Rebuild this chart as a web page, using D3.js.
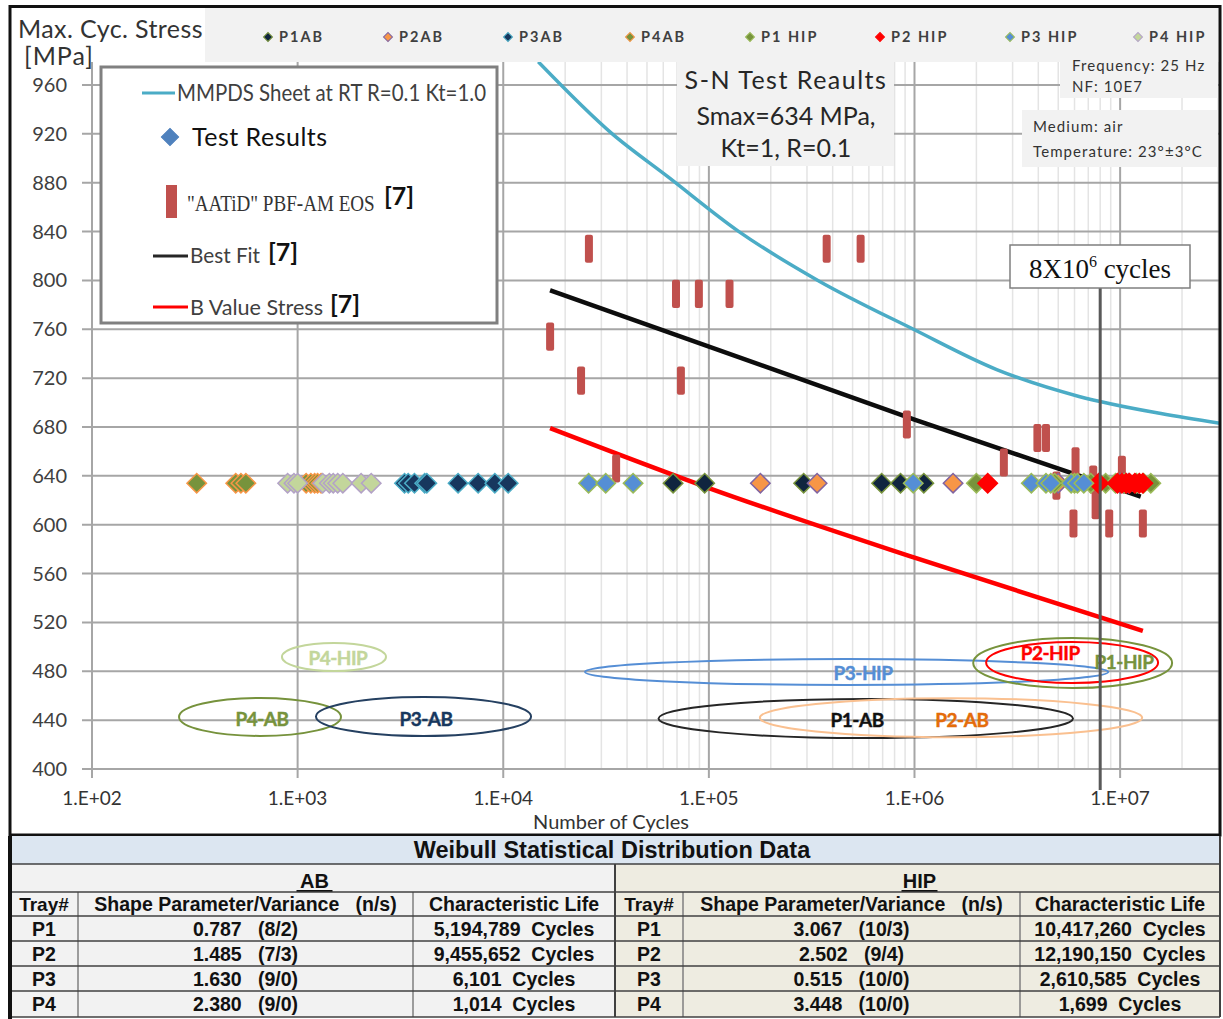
<!DOCTYPE html>
<html>
<head>
<meta charset="utf-8">
<title>S-N Test Results</title>
<style>
  body { margin: 0; background: #fff; }
  svg { display: block; font-family: Lato, 'Open Sans', sans-serif; }
  .pre { white-space: pre; }
  .tbl text { font-family: 'Liberation Sans', Arial, sans-serif; font-weight: bold; fill: #111; }
</style>
</head>
<body>
<svg width="1223" height="1019"></svg>
<script src="https://d3js.org/d3.v7.min.js"></script>
<script>
// ---- test results (all run at Smax = 634 MPa) ----
const stressLevel = 634;
const seriesNames = ["P1AB", "P2AB", "P3AB", "P4AB", "P1 HIP", "P2 HIP", "P3 HIP", "P4 HIP"];
const seriesFill = ["#10253f", "#f79646", "#17375e", "#77933c", "#77933c", "#ff0000", "#558ed5", "#c3d69b"];
const seriesStroke = ["#77933c", "#8064a2", "#4bacc6", "#f79646", "#9bbb59", "#ff0000", "#9bbb59", "#b3a2c7"];
const p1ab = [67000, 95400, 289000, 692000, 855000, 1110000, 10000000, 10500000];
const p2ab = [178000, 336000, 1540000, 5000000, 10000000, 10400000, 11000000];
const p3ab = [3310, 3450, 3700, 4150, 4250, 6030, 7550, 9100, 10570];
const p4ab = [323, 500, 530, 560, 1100, 1160, 1210, 1250, 1300];
const p1hip = [2000000, 4800000, 6000000, 7200000, 8500000, 9500000, 10500000, 12000000, 13000000, 14100000];
const p2hip = [2270000, 7860000, 9700000, 10200000, 10700000, 11100000, 11800000, 12400000, 12900000];
const p3hip = [26000, 31500, 42800, 986000, 3700000, 4360000, 4600000, 5780000, 6200000, 6660000];
const p4hip = [894, 960, 1000, 1324, 1427, 1490, 1566, 1659, 2036, 2280];
const seriesCycles = [p1ab, p2ab, p3ab, p4ab, p1hip, p2hip, p3hip, p4hip];

// ---- "AATiD" PBF-AM EOS [7] ----
const eosCycles = [16900, 23900, 26100, 35400, 69200, 73100, 89400, 126000, 374000, 547000, 918000,
                   2720000, 3960000, 4360000, 4900000, 5930000, 6070000, 7400000, 7600000, 8850000, 10200000, 12900000];
const eosStress = [754, 718, 826, 646, 789, 718, 789, 789, 826, 826, 682,
                   651, 671, 671, 632, 601, 652, 637, 616, 601, 645, 601];

// ---- curves ----
const mmpdsCycles = [14800, 33900, 63100, 140000, 339000, 988000, 2510000, 6310000, 15800000, 30600000];
const mmpdsStress = [979, 920, 885, 840, 800, 760, 727, 705, 691, 683];
const bestFitCycles = [16900, 1000000, 12600000];
const bestFitStress = [792, 686, 623];
const bValueCycles = [16900, 100000, 1000000, 12900000];
const bValueStress = [679, 630, 573, 513];

// ---- group ovals ----
const ovalNames = ["P4-HIP", "P4-AB", "P3-AB", "P3-HIP", "P1-AB", "P2-AB", "P1-HIP", "P2-HIP"];
const ovalFrom = [839, 265, 1228, 25000, 56900, 177000, 1930000, 2230000];
const ovalTo = [2690, 1625, 13650, 8750000, 5900000, 12800000, 17900000, 15300000];
const ovalStress = [491.7, 442.6, 443, 479.4, 441.3, 442, 486.8, 487.2];
const ovalHalf = [11.5, 15.5, 16, 10.6, 16, 16, 20.5, 16.8];
const ovalStroke = ["#c3d69b", "#76923c", "#254061", "#558ed5", "#262626", "#fac090", "#77933c", "#ff0000"];
const ovalText = ["#c3d69b", "#77933c", "#17375e", "#558ed5", "#111111", "#e46c0a", "#77933c", "#ff0000"];
const ovalLabelCycles = [1570, 671, 4210, 562000, 526000, 1700000, 10450000, 4570000];
const ovalLabelStress = [491, 441, 441, 479, 440, 440, 487.6, 495];

// ---- axes ----
const yTicks = d3.range(400, 961, 40);
const xDecades = [1e2, 1e3, 1e4, 1e5, 1e6, 1e7];
const runoutCycles = 8e6;

// ---- Weibull table ----
const trays = ["P1", "P2", "P3", "P4"];
const abShape = ["0.787", "1.485", "1.630", "2.380"];
const abNs = ["(8/2)", "(7/3)", "(9/0)", "(9/0)"];
const abLife = ["5,194,789", "9,455,652", "6,101", "1,014"];
const hipShape = ["3.067", "2.502", "0.515", "3.448"];
const hipNs = ["(10/3)", "(9/4)", "(10/0)", "(10/0)"];
const hipLife = ["10,417,260", "12,190,150", "2,610,585", "1,699"];

const svg = d3.select("svg");

const x = d3.scaleLog().domain([100, 3.06e7]).range([92, 1220]);
const y = d3.scaleLinear().domain([400, 960]).range([769, 85]);
const plotTop = 62, plotRight = 1220;

// frame
svg.append("rect").attr("x", 9.5).attr("y", 6.5).attr("width", 1211).attr("height", 1012)
  .attr("fill", "#fff").attr("stroke", "none");
svg.append("rect").attr("x", 205).attr("y", 8).attr("width", 1013).attr("height", 54).attr("fill", "#f2f2f2");

svg.append("clipPath").attr("id", "plot").append("rect")
  .attr("x", 92).attr("y", plotTop).attr("width", plotRight - 92).attr("height", 769 - plotTop);

// minor vertical gridlines
const minor = [];
[1e4, 1e5, 1e6, 1e7].forEach(d => { for (let k = 2; k <= 9; k++) if (d * k < x.domain()[1]) minor.push(d * k); });
svg.append("g").selectAll("line").data(minor).join("line")
  .attr("x1", d => x(d)).attr("x2", d => x(d)).attr("y1", plotTop).attr("y2", 769)
  .attr("stroke", "#e4e4e4").attr("stroke-width", 1.5);

// major gridlines
svg.append("g").selectAll("line").data(xDecades).join("line")
  .attr("x1", d => x(d)).attr("x2", d => x(d)).attr("y1", plotTop).attr("y2", 778)
  .attr("stroke", "#a6a6a6").attr("stroke-width", 2);
svg.append("g").selectAll("line").data(yTicks).join("line")
  .attr("x1", 82).attr("x2", plotRight).attr("y1", d => y(d)).attr("y2", d => y(d))
  .attr("stroke", "#a6a6a6").attr("stroke-width", 2);

// tick labels
svg.append("g").selectAll("text").data(yTicks).join("text")
  .attr("x", 67).attr("y", d => y(d) + 7).attr("text-anchor", "end")
  .attr("font-size", 20).attr("fill", "#404040").text(d => d);
svg.append("g").selectAll("text").data(xDecades).join("text")
  .attr("x", d => x(d)).attr("y", 805).attr("text-anchor", "middle")
  .attr("font-size", 19).attr("fill", "#333").text(d => "1.E+0" + Math.round(Math.log10(d)));
svg.append("text").attr("x", 611).attr("y", 829).attr("text-anchor", "middle")
  .attr("font-size", 20).attr("fill", "#333").text("Number of Cycles");
svg.append("text").attr("x", 18).attr("y", 38).attr("font-size", 25).attr("letter-spacing", 0.4)
  .attr("fill", "#333").text("Max. Cyc. Stress");
svg.append("text").attr("x", 24).attr("y", 65).attr("font-size", 25).attr("letter-spacing", 1)
  .attr("fill", "#333").text("[MPa]");

// info boxes
svg.append("rect").attr("x", 677).attr("y", 62).attr("width", 217).attr("height", 104).attr("fill", "#f2f2f2");
svg.append("rect").attr("x", 1060).attr("y", 50).attr("width", 158).attr("height", 48).attr("fill", "#f2f2f2");
svg.append("rect").attr("x", 1022).attr("y", 110).attr("width", 196).attr("height", 57).attr("fill", "#f2f2f2");
[["S-N Test Reaults", 89, 1.5], ["Smax=634 MPa,", 125, 0], ["Kt=1, R=0.1", 157, 0]].forEach(t =>
  svg.append("text").attr("x", 786).attr("y", t[1]).attr("text-anchor", "middle")
    .attr("font-size", 25).attr("letter-spacing", t[2]).attr("fill", "#262626").text(t[0]));
[["Frequency: 25 Hz", 1072, 71], ["NF: 10E7", 1072, 92], ["Medium: air", 1033, 132], ["Temperature: 23°±3°C", 1033, 157]]
  .forEach(t => svg.append("text").attr("x", t[1]).attr("y", t[2]).attr("font-size", 15)
    .attr("letter-spacing", 1.1).attr("fill", "#333").text(t[0]));

// ovals
const plot = svg.append("g").attr("clip-path", "url(#plot)");
const ovals = d3.range(ovalNames.length);
plot.append("g").selectAll("ellipse").data(ovals).join("ellipse")
  .attr("cx", i => (x(ovalFrom[i]) + x(ovalTo[i])) / 2)
  .attr("cy", i => y(ovalStress[i]))
  .attr("rx", i => (x(ovalTo[i]) - x(ovalFrom[i])) / 2)
  .attr("ry", i => y(ovalStress[i] - ovalHalf[i]) - y(ovalStress[i]))
  .attr("fill", "none").attr("stroke", i => ovalStroke[i]).attr("stroke-width", 2);
plot.append("g").selectAll("text").data(ovals).join("text")
  .attr("x", i => x(ovalLabelCycles[i])).attr("y", i => y(ovalLabelStress[i]) + 7)
  .attr("text-anchor", "middle").attr("font-size", 19).attr("font-weight", "bold")
  .attr("letter-spacing", -0.5)
  .attr("fill", i => ovalText[i]).attr("stroke", i => ovalText[i]).attr("stroke-width", 0.4)
  .text(i => ovalNames[i]);

// curves
const line = d3.line().x(d => x(d[0])).y(d => y(d[1])).curve(d3.curveMonotoneX);
plot.append("path").attr("d", line(d3.zip(mmpdsCycles, mmpdsStress)))
  .attr("fill", "none").attr("stroke", "#4bacc6").attr("stroke-width", 3.5);
plot.append("path").attr("d", line(d3.zip(bestFitCycles, bestFitStress)))
  .attr("fill", "none").attr("stroke", "#0d0d0d").attr("stroke-width", 4.5);
plot.append("path").attr("d", line(d3.zip(bValueCycles, bValueStress)))
  .attr("fill", "none").attr("stroke", "#ff0000").attr("stroke-width", 4.5);

// EOS bars
plot.append("g").selectAll("rect").data(d3.zip(eosCycles, eosStress)).join("rect")
  .attr("x", d => x(d[0]) - 4).attr("width", 8)
  .attr("y", d => y(d[1] + 11.5)).attr("height", d => y(d[1] - 11.5) - y(d[1] + 11.5))
  .attr("rx", 2).attr("fill", "#c0504d");

// test result diamonds
const diamond = d3.symbol().type(d3.symbolSquare).size(190);
seriesNames.forEach((name, i) => {
  plot.append("g").selectAll("path").data(seriesCycles[i]).join("path")
    .attr("d", diamond)
    .attr("transform", d => `translate(${x(d)},${y(stressLevel)}) rotate(45)`)
    .attr("fill", seriesFill[i]).attr("stroke", seriesStroke[i]).attr("stroke-width", 1.5);
});

// top series legend
const legX = [268, 388, 508, 630, 750, 880, 1010, 1138];
seriesNames.forEach((name, i) => {
  svg.append("path").attr("d", d3.symbol().type(d3.symbolSquare).size(40))
    .attr("transform", `translate(${legX[i]},37) rotate(45)`)
    .attr("fill", seriesFill[i]).attr("stroke", seriesStroke[i]).attr("stroke-width", 1);
  svg.append("text").attr("x", legX[i] + 11).attr("y", 42).attr("font-size", 14.5).attr("font-weight", "bold")
    .attr("letter-spacing", 2).attr("fill", "#404040").text(name);
});

// main legend box
svg.append("rect").attr("x", 101).attr("y", 67).attr("width", 396).attr("height", 256)
  .attr("fill", "#fff").attr("stroke", "#808080").attr("stroke-width", 3);
const lg = svg.append("g");
lg.append("line").attr("x1", 142).attr("x2", 175).attr("y1", 93).attr("y2", 93).attr("stroke", "#4bacc6").attr("stroke-width", 3);
lg.append("text").attr("x", 177).attr("y", 101).attr("font-size", 23).attr("fill", "#404040")
  .attr("textLength", 309).attr("lengthAdjust", "spacingAndGlyphs").text("MMPDS Sheet at RT R=0.1 Kt=1.0");
lg.append("path").attr("d", d3.symbol().type(d3.symbolSquare).size(150))
  .attr("transform", "translate(170,137) rotate(45)").attr("fill", "#4f81bd").attr("stroke", "#4f81bd");
lg.append("text").attr("x", 192).attr("y", 146).attr("font-size", 25).attr("fill", "#111")
  .attr("letter-spacing", 0.5).text("Test Results");
lg.append("rect").attr("x", 166).attr("y", 185).attr("width", 11).attr("height", 33).attr("fill", "#c0504d");
lg.append("text").attr("transform", "translate(187,211) scale(0.83,1)")
  .attr("font-family", "'Liberation Serif', 'DejaVu Serif', serif")
  .attr("font-size", 23).attr("fill", "#333").text("\"AATiD\" PBF-AM EOS");
lg.append("line").attr("x1", 153).attr("x2", 188).attr("y1", 256).attr("y2", 256).attr("stroke", "#262626").attr("stroke-width", 3);
lg.append("text").attr("x", 190).attr("y", 263).attr("font-size", 21).attr("fill", "#404040")
  .attr("textLength", 70).attr("lengthAdjust", "spacingAndGlyphs").text("Best Fit");
lg.append("line").attr("x1", 153).attr("x2", 188).attr("y1", 307).attr("y2", 307).attr("stroke", "#ff0000").attr("stroke-width", 3);
lg.append("text").attr("x", 190).attr("y", 315).attr("font-size", 21).attr("fill", "#404040")
  .attr("textLength", 133).attr("lengthAdjust", "spacingAndGlyphs").text("B Value Stress");
[[384, 205], [268, 261], [330, 313]].forEach(p =>
  lg.append("text").attr("x", p[0]).attr("y", p[1]).attr("font-size", 25).attr("font-weight", "bold")
    .attr("fill", "#111").text("[7]"));

// 8x10^6 run-out marker
svg.append("line").attr("x1", x(runoutCycles)).attr("x2", x(runoutCycles)).attr("y1", 288).attr("y2", 790)
  .attr("stroke", "#595959").attr("stroke-width", 3);
svg.append("rect").attr("x", 1010).attr("y", 245).attr("width", 180).attr("height", 43)
  .attr("fill", "#fff").attr("stroke", "#7f7f7f").attr("stroke-width", 1.5);
const rt = svg.append("text").attr("x", 1100).attr("y", 278).attr("text-anchor", "middle")
  .attr("font-family", "'Liberation Serif', 'DejaVu Serif', serif").attr("font-size", 27).attr("fill", "#111");
rt.append("tspan").text("8X10");
rt.append("tspan").attr("font-size", 16).attr("dy", -11).text("6");
rt.append("tspan").attr("dy", 11).text(" cycles");

// chart frame border
svg.append("rect").attr("x", 10).attr("y", 6.5).attr("width", 1210).attr("height", 828.5)
  .attr("fill", "none").attr("stroke", "#111").attr("stroke-width", 3);

// ---- Weibull table ----
const tb = svg.append("g").attr("class", "tbl");
const rowY = [836, 864, 892, 916, 941, 966, 991, 1017];
tb.append("rect").attr("x", 10).attr("y", rowY[0]).attr("width", 1210).attr("height", rowY[1] - rowY[0]).attr("fill", "#dce6f1");
tb.append("rect").attr("x", 10).attr("y", rowY[1]).attr("width", 605).attr("height", rowY[7] - rowY[1]).attr("fill", "#f2f2f2");
tb.append("rect").attr("x", 615).attr("y", rowY[1]).attr("width", 605).attr("height", rowY[7] - rowY[1]).attr("fill", "#eeece1");
tb.append("text").attr("x", 612).attr("y", 858).attr("text-anchor", "middle").attr("font-size", 23.5).text("Weibull Statistical Distribution Data");

const halves = [
  { cols: [10, 78, 413, 615], title: "AB", shape: abShape, ns: abNs, life: abLife },
  { cols: [615, 683, 1020, 1220], title: "HIP", shape: hipShape, ns: hipNs, life: hipLife }
];
halves.forEach(h => {
  const c = h.cols;
  const mid = (c[0] + c[3]) / 2;
  tb.append("text").attr("x", mid + 2).attr("y", 888).attr("text-anchor", "middle").attr("font-size", 20).text(h.title);
  tb.append("line").attr("x1", mid - 16).attr("x2", mid + 20).attr("y1", 891).attr("y2", 891).attr("stroke", "#111").attr("stroke-width", 2);
  tb.append("text").attr("x", (c[0] + c[1]) / 2).attr("y", 911).attr("text-anchor", "middle").attr("font-size", 19).text("Tray#");
  tb.append("text").attr("x", (c[1] + c[2]) / 2).attr("y", 911).attr("text-anchor", "middle").attr("font-size", 19.5)
    .attr("class", "pre").text("Shape Parameter/Variance   (n/s)");
  tb.append("text").attr("x", (c[2] + c[3]) / 2).attr("y", 911).attr("text-anchor", "middle").attr("font-size", 19.5).text("Characteristic Life");
  trays.forEach((t, i) => {
    const by = rowY[3 + i] + 20;
    tb.append("text").attr("x", (c[0] + c[1]) / 2).attr("y", by).attr("text-anchor", "middle").attr("font-size", 19.5).text(t);
    tb.append("text").attr("x", (c[1] + c[2]) / 2).attr("y", by).attr("text-anchor", "middle").attr("font-size", 19.5)
      .attr("class", "pre").text(h.shape[i] + "   " + h.ns[i]);
    tb.append("text").attr("x", (c[2] + c[3]) / 2).attr("y", by).attr("text-anchor", "middle").attr("font-size", 19.5)
      .attr("class", "pre").text(h.life[i] + "  Cycles");
  });
  [c[1], c[2]].forEach(cx => tb.append("line").attr("x1", cx).attr("x2", cx).attr("y1", rowY[2]).attr("y2", rowY[7])
    .attr("stroke", "#7f7f7f").attr("stroke-width", 1.5));
});
rowY.slice(1).forEach(ry => tb.append("line").attr("x1", 10).attr("x2", 1220).attr("y1", ry).attr("y2", ry)
  .attr("stroke", "#404040").attr("stroke-width", 1.5));
tb.append("line").attr("x1", 615).attr("x2", 615).attr("y1", rowY[1]).attr("y2", rowY[7]).attr("stroke", "#404040").attr("stroke-width", 2);
tb.append("line").attr("x1", 1220).attr("x2", 1220).attr("y1", rowY[0]).attr("y2", rowY[7]).attr("stroke", "#404040").attr("stroke-width", 2);
tb.append("line").attr("x1", 10).attr("x2", 10).attr("y1", rowY[0]).attr("y2", 1019).attr("stroke", "#111").attr("stroke-width", 4);
</script>
</body>
</html>
